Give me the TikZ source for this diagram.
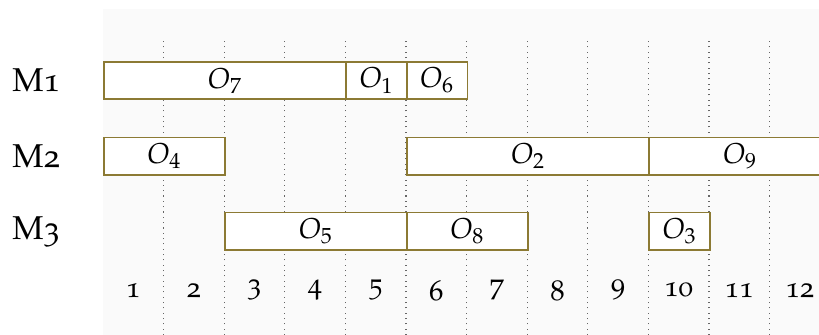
\documentclass[tikz,border=0pt]{standalone}
\usepackage[T1]{fontenc}
\usepackage[osf]{mathpazo}
\definecolor{jobline}{RGB}{140,122,52}
\definecolor{chartbg}{RGB}{250,250,250}
\tikzset{job/.style={draw=jobline,line width=.8pt,fill=white,minimum height=.62cm,inner sep=0pt,anchor=west},
  machine/.style={font=\fontsize{15.5}{18}\selectfont},
  tick/.style={dotted,line width=.5pt,black!60}}
\begin{document}
\begin{tikzpicture}[font=\fontsize{13.5}{16}\selectfont]
\useasboundingbox (-1.70,0) rectangle (11.815,5.528);
\fill[chartbg] (0,0) rectangle (11.815,5.38);
\foreach \t in {1,...,11} \draw[tick] (\t,0)--(\t,4.9);
% machines
\node[machine] (m1) at (-1.1,4.2) {M1}; \node[machine] (m2) at (-1.1,2.95) {M2}; \node[machine] (m3) at (-1.1,1.71) {M3};
% M1
\node[job,minimum width=4cm] (o7) at (0,4.2) {$O_7$}; \node[job,minimum width=1cm] (o1) at (4,4.2) {$O_1$}; \node[job,minimum width=1cm] (o6) at (5,4.2) {$O_6$};
% M2
\node[job,minimum width=2cm] (o4) at (0,2.95) {$O_4$}; \node[job,minimum width=4cm] (o2) at (5,2.95) {$O_2$}; \node[job,minimum width=3cm] (o9) at (9,2.95) {$O_9$};
% M3
\node[job,minimum width=3cm] (o5) at (2,1.71) {$O_5$}; \node[job,minimum width=2cm] (o8) at (5,1.71) {$O_8$}; \node[job,minimum width=1cm] (o3) at (9,1.71) {$O_3$};
% time axis
\foreach \t in {1,...,12} \node (t\t) at (\t-.5,.74) {\t};
\end{tikzpicture}
\end{document}
